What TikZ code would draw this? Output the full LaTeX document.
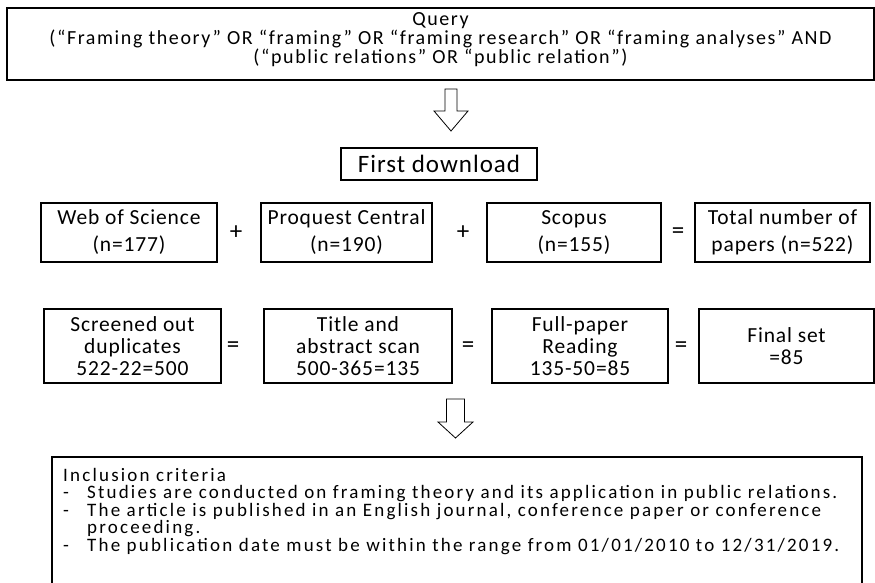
\documentclass[tikz,border=0pt]{standalone}
\usepackage{fontspec}
\usetikzlibrary{calc}
\setmainfont{Carlito}
\newfontfamily\qfont{Carlito}[LetterSpace=8]
\newfontfamily\bfontx{Carlito}[LetterSpace=4]
\newfontfamily\ffont{Carlito}[LetterSpace=4]
\newfontfamily\ifont{Carlito}[LetterSpace=11.5]
\begin{document}
\begin{tikzpicture}[x=1pt,y=-1pt,
  box/.style={draw, line width=1.8pt, inner sep=0pt},
  qtext/.style={font=\qfont\fontsize{20}{19}\selectfont, align=center, inner sep=0pt},
  rowone/.style={box, minimum height=59pt, align=center, font=\bfontx\fontsize{21.5}{27}\selectfont},
  rowtwo/.style={box, minimum height=74pt, align=center, font=\bfontx\fontsize{21.5}{21.7}\selectfont},
  opsign/.style={font=\bfontx\fontsize{25}{25}\selectfont, inner sep=0pt},
  itext/.style={font=\ifont\fontsize{19}{17.5}\selectfont, inner sep=0pt, anchor=base west},
  blockarrow/.style={draw, line width=0.8pt, fill=white, line join=miter}]
\useasboundingbox (0,0) rectangle (875,583);
\fill[white] (0,0) rectangle (875,583);

% Query box
\node[box, line width=2.2pt, minimum width=867pt, minimum height=72pt] (query) at (440.5,44) {};
\node[qtext] (querytext) at (440.5,40) {Query\\(“Framing theory” OR “framing” OR “framing research” OR “framing analyses” AND\\(“public relations” OR “public relation”)};

% arrow 1
\coordinate (a1) at (451,89);
\draw[blockarrow] ($(a1)+(-6,0)$) -- ($(a1)+(6,0)$) -- ($(a1)+(6,22)$) -- ($(a1)+(17,22)$) -- ($(a1)+(0,42)$) -- ($(a1)+(-17,22)$) -- ($(a1)+(-6,22)$) -- cycle;

% First download
\node[box, minimum width=196pt, minimum height=32pt, font=\ffont\fontsize{25}{25}\selectfont] (first) at (439,164) {First download};

% Row 1
\node[rowone, minimum width=176pt] (wos) at (129,232.5) {Web of Science\\(n=177)};
\node[rowone, minimum width=171pt] (proq) at (346.5,232.5) {Proquest Central\\(n=190)};
\node[rowone, minimum width=174pt] (scop) at (574,232.5) {Scopus\\(n=155)};
\node[rowone, minimum width=175pt] (total) at (782.5,232.5) {Total number of\\papers (n=522)};
\node[opsign] (p1) at (236,233) {+};
\node[opsign] (p2) at (463,233) {+};
\node[opsign] (e1) at (678,233) {=};

% Row 2
\node[rowtwo, minimum width=177pt] (scr) at (132.5,346) {Screened out\\duplicates\\522-22=500};
\node[rowtwo, minimum width=188pt] (title) at (358,346) {Title and\\abstract scan\\500-365=135};
\node[rowtwo, minimum width=176pt] (full) at (580,346) {Full-paper\\Reading\\135-50=85};
\node[rowtwo, minimum width=175pt] (final) at (786.5,346) {Final set\\=85};
\node[opsign] (e2) at (233,347) {=};
\node[opsign] (e3) at (468,347) {=};
\node[opsign] (e4) at (681,347) {=};

% arrow 2
\coordinate (a2) at (455.5,399);
\draw[blockarrow] ($(a2)+(-9,0)$) -- ($(a2)+(9,0)$) -- ($(a2)+(9,23)$) -- ($(a2)+(17.5,23)$) -- ($(a2)+(0,39)$) -- ($(a2)+(-17.5,23)$) -- ($(a2)+(-9,23)$) -- cycle;

% Inclusion criteria
\node[box, line width=2.2pt, minimum width=810pt, minimum height=143pt] (incl) at (457,528.5) {};
\node[itext] (i0) at (63,481) {Inclusion criteria};
\node[itext] (i1) at (63,498.5) {\makebox[24pt][l]{-}Studies are conducted on framing theory and its application in public relations.};
\node[itext] (i2) at (63,516) {\makebox[24pt][l]{-}The article is published in an English journal, conference paper or conference};
\node[itext] (i3) at (87,533.5) {proceeding.};
\node[itext] (i4) at (63,551) {\makebox[24pt][l]{-}The publication date must be within the range from 01/01/2010 to 12/31/2019.};
\end{tikzpicture}
\end{document}
